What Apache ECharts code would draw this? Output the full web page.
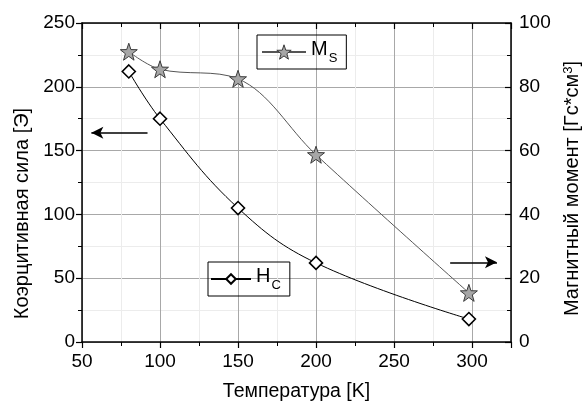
<!DOCTYPE html>
<html>
<head>
<meta charset="utf-8">
<script src="https://cdn.jsdelivr.net/npm/echarts@6/dist/echarts.min.js"></script>
<style>
  html, body { margin: 0; padding: 0; background: #fff; }
  #chart { width: 584px; height: 405px; }
</style>
</head>
<body>
<div id="chart"></div>
<script>
// температура, K
var temps = [80, 100, 150, 200, 298]
// коэрцитивная сила, Э (левая ось)
var hc = [212, 175, 105, 62, 18]
// магнитный момент, Гс*см3 (правая ось)
var ms = [91, 85.5, 82.5, 58.7, 15.4]
var xTicks = [50, 100, 150, 200, 250, 300]
// стрелки-указатели осей (в координатах данных)
var arrowLeft = [[92, 164], [56, 164]]
var arrowRight = [[286, 25], [316, 25]]

var font = 'Liberation Sans, Arial, sans-serif'
var star = 'path://M0,-10L2.35,-3.24L9.51,-3.09L3.8,1.24L5.88,8.09L0,4L-5.88,8.09L-3.8,1.24L-9.51,-3.09L-2.35,-3.24Z'

var myChart = echarts.init(document.getElementById('chart'))

function pairs (ys) {
  return temps.map(function (t, i) { return [t, ys[i]] })
}

var majorSplit = { show: true, lineStyle: { color: '#a8a8a8', width: 1 } }
var minorSplit = { show: true, lineStyle: { color: '#ececec', width: 1 } }
var axisLine = { show: true, onZero: false, lineStyle: { color: '#000', width: 1.5 } }

var legendRich = {
  b: { fontSize: 20, fontFamily: font, color: '#000', lineHeight: 23, verticalAlign: 'top' },
  s: { fontSize: 13, fontFamily: font, color: '#000', verticalAlign: 'top', padding: [13, 0, 0, 1] }
}

var option = {
  animation: false,
  textStyle: { fontFamily: font, color: '#000' },
  grid: { left: 82, right: 73, top: 23, bottom: 63, outerBoundsMode: 'none', containLabel: false },
  legend: [{
    data: ['Ms'],
    left: 257,
    top: 35,
    orient: 'vertical',
    borderColor: '#000',
    borderWidth: 1,
    padding: [4, 9, 4, 4],
    itemWidth: 44,
    itemHeight: 18,
    itemGap: 0,
    itemStyle: { color: '#a6a6a6', borderColor: '#3a3a3a', borderWidth: 1 },
    formatter: function () { return '{b|M}{s|S}' },
    textStyle: { rich: legendRich }
  }, {
    data: ['Hc'],
    left: 208,
    top: 262,
    orient: 'vertical',
    borderColor: '#000',
    borderWidth: 1,
    padding: [4, 9, 4, 2],
    itemWidth: 40,
    itemHeight: 12,
    itemGap: 0,
    formatter: function () { return '{b|H}{s|C}' },
    textStyle: { rich: legendRich }
  }],
  xAxis: [{
    type: 'value',
    min: 50,
    max: 325,
    interval: 50,
    name: 'Температура [K]',
    nameLocation: 'middle',
    nameGap: 40,
    nameTextStyle: { fontSize: 19.5, fontFamily: font, color: '#000' },
    axisLine: axisLine,
    axisTick: { show: true, length: 6, lineStyle: { color: '#000', width: 1.2 } },
    minorTick: { show: true, splitNumber: 2, length: 4, lineStyle: { color: '#000', width: 1 } },
    axisLabel: {
      fontSize: 19, color: '#000', margin: 10,
      customValues: xTicks
    },
    splitLine: majorSplit,
    minorSplitLine: minorSplit
  }, {
    type: 'value',
    position: 'top',
    min: 50,
    max: 325,
    interval: 50,
    axisLine: axisLine,
    axisTick: { show: true, inside: true, length: 6, lineStyle: { color: '#000', width: 1.2 } },
    minorTick: { show: true, splitNumber: 2, length: 4, lineStyle: { color: '#000', width: 1 } },
    axisLabel: { show: false },
    splitLine: { show: false }
  }],
  yAxis: [{
    type: 'value',
    min: 0,
    max: 250,
    interval: 50,
    position: 'left',
    name: 'Коэрцитивная сила [Э]',
    nameLocation: 'middle',
    nameGap: 50,
    nameRotate: 90,
    nameTextStyle: { fontSize: 20, fontFamily: font, color: '#000', padding: [0, 62, 0, 0] },
    axisLine: axisLine,
    axisTick: { show: true, length: 6, lineStyle: { color: '#000', width: 1.2 } },
    minorTick: { show: true, splitNumber: 2, length: 4, lineStyle: { color: '#000', width: 1 } },
    axisLabel: { fontSize: 19, color: '#000', margin: 7 },
    splitLine: majorSplit,
    minorSplitLine: minorSplit
  }, {
    type: 'value',
    min: 0,
    max: 100,
    interval: 20,
    position: 'right',
    name: 'Магнитный момент [Гс*см{sup|3}]',
    nameLocation: 'middle',
    nameGap: 42,
    nameRotate: 90,
    nameTextStyle: {
      fontSize: 20, fontFamily: font, color: '#000', padding: [0, 12, 0, 0],
      rich: {
        sup: { fontSize: 13, fontFamily: font, color: '#000', verticalAlign: 'top', padding: [0, 0, 9, 0] }
      }
    },
    axisLine: axisLine,
    axisTick: { show: true, inside: true, length: 6, lineStyle: { color: '#000', width: 1.2 } },
    minorTick: { show: true, splitNumber: 2, length: 4, lineStyle: { color: '#000', width: 1 } },
    axisLabel: { fontSize: 19, color: '#000', margin: 8 },
    splitLine: { show: false }
  }],
  series: [{
    name: 'Ms',
    type: 'line',
    xAxisIndex: 0,
    yAxisIndex: 1,
    data: pairs(ms),
    smooth: 0.35,
    symbol: star,
    symbolSize: 17,
    lineStyle: { color: '#555', width: 1 },
    itemStyle: { color: '#a6a6a6', borderColor: '#3a3a3a', borderWidth: 1 },
    z: 4,
    markLine: {
      silent: true,
      symbol: ['none', 'arrow'],
      symbolSize: [9, 12],
      label: { show: false },
      lineStyle: { color: '#000', width: 1.6, type: 'solid' },
      data: [[{ coord: arrowRight[0] }, { coord: arrowRight[1] }]]
    }
  }, {
    name: 'Hc',
    type: 'line',
    xAxisIndex: 0,
    yAxisIndex: 0,
    data: pairs(hc),
    smooth: 0.4,
    symbol: 'diamond',
    symbolSize: 13,
    lineStyle: { color: '#000', width: 1 },
    itemStyle: { color: '#fff', borderColor: '#000', borderWidth: 1.6 },
    z: 5,
    markLine: {
      silent: true,
      symbol: ['none', 'arrow'],
      symbolSize: [9, 12],
      label: { show: false },
      lineStyle: { color: '#000', width: 1.6, type: 'solid' },
      data: [[{ coord: arrowLeft[0] }, { coord: arrowLeft[1] }]]
    }
  }]
}
myChart.setOption(option)
</script>
</body>
</html>
